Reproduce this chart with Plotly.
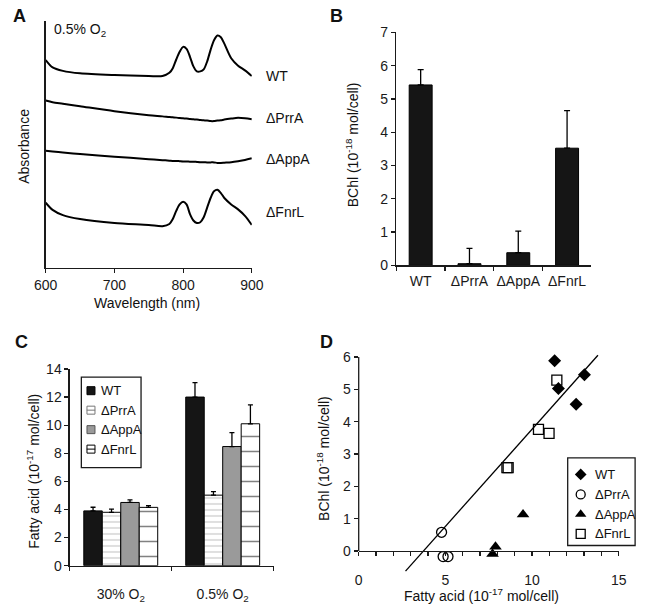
import plotly.graph_objects as go

W, H = 650, 610
FONT = "Liberation Sans, Arial, sans-serif"
AX = "#1a1a1a"

# ---------------- Panel A : absorbance spectra (0.5% O2) ----------------
wavelength = [600, 610, 625, 650, 700, 750, 770, 780, 785, 790, 795, 800, 805, 810,
              815, 820, 825, 830, 835, 840, 845, 850, 855, 860, 870, 880, 890, 900]
abs_wt = [0.841, 0.811, 0.797, 0.787, 0.780, 0.776, 0.776, 0.789, 0.808, 0.843, 0.874, 0.894,
          0.886, 0.854, 0.815, 0.795, 0.795, 0.803, 0.835, 0.882, 0.921, 0.940, 0.933, 0.907,
          0.848, 0.818, 0.799, 0.776]
abs_prra = [0.677, 0.670, 0.664, 0.654, 0.634, 0.618, 0.613, 0.610, 0.609, 0.608, 0.606, 0.605,
            0.604, 0.602, 0.601, 0.600, 0.598, 0.597, 0.596, 0.594, 0.594, 0.596, 0.597, 0.600,
            0.604, 0.607, 0.605, 0.601]
abs_appa = [0.474, 0.471, 0.467, 0.461, 0.450, 0.440, 0.436, 0.434, 0.433, 0.433, 0.432, 0.431,
            0.431, 0.430, 0.430, 0.429, 0.428, 0.428, 0.427, 0.427, 0.427, 0.425, 0.425, 0.426,
            0.428, 0.432, 0.437, 0.444]
abs_fnrl = [0.264, 0.235, 0.214, 0.198, 0.182, 0.174, 0.169, 0.178, 0.198, 0.231, 0.257, 0.268,
            0.257, 0.218, 0.192, 0.182, 0.185, 0.205, 0.244, 0.283, 0.310, 0.316, 0.303, 0.283,
            0.257, 0.237, 0.211, 0.174]
spectra_labels = ["WT", "ΔPrrA", "ΔAppA", "ΔFnrL"]

# ---------------- Panel B : BChl content ----------------
strains = ["WT", "ΔPrrA", "ΔAppA", "ΔFnrL"]
bchl_mean = [5.42, 0.05, 0.38, 3.52]
bchl_err = [0.46, 0.46, 0.65, 1.13]

# ---------------- Panel C : fatty acid content ----------------
conditions = ["30% O<sub>2</sub>", "0.5% O<sub>2</sub>"]
fa_wt = [3.9, 12.0]
fa_wt_err = [0.26, 1.03]
fa_prra = [3.8, 5.02]
fa_prra_err = [0.22, 0.25]
fa_appa = [4.5, 8.48]
fa_appa_err = [0.19, 0.99]
fa_fnrl = [4.15, 10.1]
fa_fnrl_err = [0.12, 1.34]

# ---------------- Panel D : BChl vs fatty acid ----------------
d_wt_x = [11.3, 11.52, 13.02, 12.54]
d_wt_y = [5.88, 5.02, 5.45, 4.54]
d_prra_x = [4.78, 4.87, 5.15]
d_prra_y = [0.58, -0.17, -0.17]
d_appa_x = [9.48, 7.89, 7.72]
d_appa_y = [1.13, 0.13, -0.09]
d_fnrl_x = [11.43, 10.37, 10.98, 8.55, 8.62]
d_fnrl_y = [5.28, 3.76, 3.64, 2.58, 2.58]
trend_x = [2.7, 13.8]
trend_y = [-0.62, 6.05]


def px(x):
    return x / W


def py(y):
    return 1 - y / H


fig = go.Figure()

# ---- A traces
for vals in [abs_wt, abs_prra, abs_appa, abs_fnrl]:
    fig.add_trace(go.Scatter(x=wavelength, y=vals, mode="lines",
                             line=dict(color="black", width=2, shape="spline", smoothing=0.8),
                             xaxis="x", yaxis="y", showlegend=False, hoverinfo="skip"))

# ---- B traces
fig.add_trace(go.Bar(x=strains, y=bchl_mean, marker=dict(color="#151515", line=dict(color="black", width=1)),
                     error_y=dict(type="data", array=bchl_err, arrayminus=[0] * 4, symmetric=False,
                                  color="black", thickness=1.3, width=3),
                     width=0.47, xaxis="x2", yaxis="y2", showlegend=False))

# ---- C traces
PRRA_PAT = dict(shape="-", fgcolor="#888888", bgcolor="white", size=6, solidity=0.18)
FNRL_PAT = dict(shape="-", fgcolor="black", bgcolor="white", size=15, solidity=0.1)
c_series = [
    ("WT", fa_wt, fa_wt_err, dict(color="#151515", line=dict(color="black", width=1))),
    ("ΔPrrA", fa_prra, fa_prra_err, dict(color="white", line=dict(color="black", width=1), pattern=PRRA_PAT)),
    ("ΔAppA", fa_appa, fa_appa_err, dict(color="#9a9a9a", line=dict(color="black", width=1))),
    ("ΔFnrL", fa_fnrl, fa_fnrl_err, dict(color="white", line=dict(color="black", width=1), pattern=FNRL_PAT)),
]
for name, vals, errs, mk in c_series:
    fig.add_trace(go.Bar(x=conditions, y=vals, name=name, marker=mk,
                         error_y=dict(type="data", array=errs, arrayminus=[0] * 2, symmetric=False,
                                      color="black", thickness=1.3, width=2.5),
                         xaxis="x3", yaxis="y3", showlegend=False))

# ---- D traces
fig.add_trace(go.Scatter(x=trend_x, y=trend_y, mode="lines", line=dict(color="black", width=1.3),
                         xaxis="x4", yaxis="y4", showlegend=False, hoverinfo="skip"))
D_MARKERS = {
    "WT": dict(symbol="diamond", size=10, color="black"),
    "ΔPrrA": dict(symbol="circle-open", size=10, color="black", line=dict(width=1.3)),
    "ΔAppA": dict(symbol="triangle-up", size=11, color="black"),
    "ΔFnrL": dict(symbol="square-open", size=10, color="black", line=dict(width=1.3)),
}
d_series = [("WT", d_wt_x, d_wt_y), ("ΔPrrA", d_prra_x, d_prra_y),
            ("ΔAppA", d_appa_x, d_appa_y), ("ΔFnrL", d_fnrl_x, d_fnrl_y)]
for name, xs, ys in d_series:
    fig.add_trace(go.Scatter(x=xs, y=ys, mode="markers", name=name, marker=D_MARKERS[name], cliponaxis=False,
                             xaxis="x4", yaxis="y4", showlegend=False))

# ---- legend glyphs on a hidden page-sized overlay axis (pixel units)
names = ["WT", "ΔPrrA", "ΔAppA", "ΔFnrL"]
C_LEG = dict(x0=72, x1=134, y0=379, y1=472, sym_x=82, txt_x=90, rows=[393, 413, 433, 453])
D_LEG = dict(x0=577, x1=647, y0=462, y1=552, sym_x=590.5, txt_x=603, rows=[479, 499.5, 520, 540])

c_leg_style = [
    dict(symbol="square", size=8, color="#151515", line=dict(color="black", width=1)),
    dict(symbol="square", size=8, color="white", line=dict(color="#777777", width=1)),
    dict(symbol="square", size=8, color="#9a9a9a", line=dict(color="#555555", width=1)),
    dict(symbol="square", size=8, color="white", line=dict(color="black", width=1)),
]
for st, yy in zip(c_leg_style, C_LEG["rows"]):
    fig.add_trace(go.Scatter(x=[C_LEG["sym_x"]], y=[yy], mode="markers", marker=st, cliponaxis=False,
                             xaxis="x5", yaxis="y5", showlegend=False, hoverinfo="skip"))
for col, yy in [("#777777", C_LEG["rows"][1]), ("black", C_LEG["rows"][3])]:
    fig.add_trace(go.Scatter(x=[C_LEG["sym_x"]], y=[yy], mode="markers",
                             marker=dict(symbol="line-ew", size=6, line=dict(color=col, width=1)),
                             cliponaxis=False, xaxis="x5", yaxis="y5", showlegend=False, hoverinfo="skip"))
for nm, yy in zip(names, D_LEG["rows"]):
    mk = dict(D_MARKERS[nm])
    mk["size"] = mk["size"] - 1
    fig.add_trace(go.Scatter(x=[D_LEG["sym_x"]], y=[yy], mode="markers", marker=mk, cliponaxis=False,
                             xaxis="x5", yaxis="y5", showlegend=False, hoverinfo="skip"))

axis_common = dict(showgrid=False, zeroline=False, showline=True, linecolor=AX, linewidth=1.3,
                   ticks="outside", tickcolor=AX, ticklen=4, tickwidth=1.2,
                   tickfont=dict(size=14, color="#1a1a1a", family=FONT))

# domains
A_x = [px(35), px(249)]
A_y = [py(267), py(13)]
B_x = [px(399), px(601.7)]
B_y = [py(264.3), py(25)]
C_x = [px(60), px(271.7)]
C_y = [py(572.7), py(370.7)]
D_x = [px(360), px(630)]
D_yrange = [-0.75, 6.1]
D_y = [py(557.7 + 0.75 * 33.23), py(358.3 - 0.1 * 33.23)]
d_zero_pos = D_y[0] + (0 - D_yrange[0]) / (D_yrange[1] - D_yrange[0]) * (D_y[1] - D_y[0])

fig.update_layout(
    width=W, height=H, margin=dict(l=0, r=0, t=0, b=0),
    paper_bgcolor="white", plot_bgcolor="rgba(0,0,0,0)",
    font=dict(family=FONT, color="#1a1a1a", size=14),
    barmode="group", bargap=0.275, bargroupgap=0, showlegend=False, hovermode=False,
    xaxis=dict(axis_common, domain=A_x, range=[600, 900], tickvals=[600, 700, 800, 900], anchor="y",
               ticklabelstandoff=0),
    yaxis=dict(axis_common, domain=A_y, range=[0, 1], ticks="", showticklabels=False, anchor="x"),
    xaxis2=dict(axis_common, domain=B_x, type="category", tickson="boundaries", anchor="y2",
                tickangle=0, ticklabelstandoff=3),
    yaxis2=dict(axis_common, domain=B_y, range=[0, 7], dtick=1, anchor="x2"),
    xaxis3=dict(axis_common, domain=C_x, type="category", tickson="boundaries", anchor="y3",
                tickangle=0, ticklabelstandoff=15),
    yaxis3=dict(axis_common, domain=C_y, range=[0, 14], dtick=2, anchor="x3"),
    xaxis4=dict(axis_common, domain=D_x, range=[0, 15], tickvals=[0, 5, 10, 15], anchor="free",
                position=d_zero_pos,
                minor=dict(dtick=1, ticks="outside", ticklen=4, tickcolor=AX, tickwidth=1.2),
                ticklabelstandoff=12),
    yaxis4=dict(axis_common, domain=D_y, range=D_yrange, tickvals=[0, 1, 2, 3, 4, 5, 6], anchor="x4",
                showline=False),
    xaxis5=dict(domain=[0, 1], range=[0, W], visible=False, anchor="y5", fixedrange=True),
    yaxis5=dict(domain=[0, 1], range=[H, 0], visible=False, anchor="x5", fixedrange=True),
)

shapes = [
    dict(type="line", xref="paper", yref="y4", x0=D_x[0], x1=D_x[0], y0=0, y1=6, line=dict(color=AX, width=1.3)),
]
for L in (C_LEG, D_LEG):
    shapes.append(dict(type="rect", xref="paper", yref="paper", x0=px(L["x0"]), x1=px(L["x1"]),
                       y0=py(L["y1"]), y1=py(L["y0"]), line=dict(color=AX, width=1.3), fillcolor="white",
                       layer="below"))
fig.update_layout(shapes=shapes)

ann = []


def add_text(text, x, y, size=14, bold=False, angle=0, xanchor="center"):
    ann.append(dict(text=("<b>%s</b>" % text) if bold else text, x=px(x), y=py(y), xref="paper", yref="paper",
                    showarrow=False, xanchor=xanchor, yanchor="middle", textangle=angle,
                    font=dict(size=size, family=FONT, color="#111")))


add_text("A", 8, 8, 18, True)
add_text("B", 337, 8, 18, True)
add_text("C", 10, 343, 18, True)
add_text("D", 327, 343, 18, True)
add_text("0.5% O<sub>2</sub>", 42, 23, 14, xanchor="left")
for lbl, yy in zip(spectra_labels, [70, 113, 155, 210]):
    add_text(lbl, 262, yy, 14, xanchor="left")
add_text("Absorbance", 13, 142, 14, angle=-90)
add_text("Wavelength (nm)", 140, 303, 14)
add_text("BChl (10<sup>-18</sup> mol/cell)", 353, 140, 14, angle=-90)
add_text("Fatty acid (10<sup>-17</sup> mol/cell)", 21, 476, 14, angle=-90)
add_text("BChl (10<sup>-18</sup> mol/cell)", 323, 463, 14, angle=-90)
add_text("Fatty acid (10<sup>-17</sup> mol/cell)", 488, 603, 14)
for nm, yy in zip(names, C_LEG["rows"]):
    add_text(nm, C_LEG["txt_x"], yy, 13, xanchor="left")
for nm, yy in zip(names, D_LEG["rows"]):
    add_text(nm, D_LEG["txt_x"], yy, 13, xanchor="left")
fig.update_layout(annotations=ann)

fig.write_html("out.html", config={"displayModeBar": False, "staticPlot": True},
               post_script="document.body.style.margin='0';document.body.style.overflow='hidden';")
